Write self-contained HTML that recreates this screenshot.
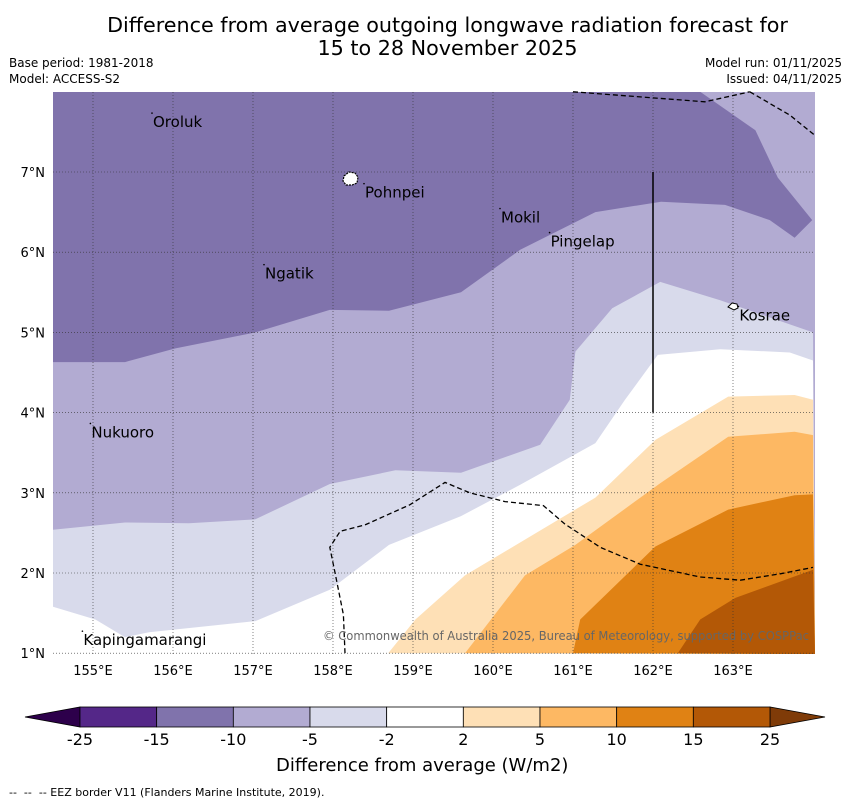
<!DOCTYPE html>
<html><head><meta charset="utf-8"><style>
body{margin:0;background:#fff;font-family:"DejaVu Sans","Liberation Sans",sans-serif;}
#wrap{position:relative;width:850px;height:804px;overflow:hidden;}
.t{position:absolute;white-space:nowrap;color:#000;}
</style></head><body>
<div id="wrap">
<div class="t" style="left:0;width:895px;text-align:center;top:14px;font-size:20.7px;line-height:23px;">Difference from average outgoing longwave radiation forecast for<br>15 to 28 November 2025</div>
<div class="t" style="left:9px;top:55px;font-size:12px;line-height:16px;">Base period: 1981-2018<br>Model: ACCESS-S2</div>
<div class="t" style="right:8px;top:55px;font-size:12px;line-height:16px;text-align:right;">Model run: 01/11/2025<br>Issued: 04/11/2025</div>
<svg id="map" width="850" height="804" style="position:absolute;left:0;top:0"></svg>
<div class="t" style="left:276px;top:755px;font-size:18px;">Difference from average (W/m2)</div>
<div class="t" style="left:9px;top:786px;font-size:11px;">--&nbsp; --&nbsp; -- EEZ border V11 (Flanders Marine Institute, 2019).</div>
</div>
<script>
const lonTicks=[155,156,157,158,159,160,161,162,163];
const latTicks=[1,2,3,4,5,6,7];
const levels=[-25,-15,-10,-5,-2,2,5,10,15,25];
const levelColors=['#542788','#8073ac','#b2abd2','#d8daeb','#ffffff','#fee0b6','#fdb863','#e08214','#b35806'];
const b1=[[154.5,4.63],[155.4,4.63],[156.03,4.8],[157.03,5.0],[157.96,5.28],[158.7,5.27],[159.6,5.5],[160.34,6.03],[161.28,6.5],[162.1,6.63],[162.9,6.59],[163.46,6.4],[163.77,6.18],[163.99,6.4],[163.56,6.93],[163.28,7.52],[162.59,8.0]];
const b2=[[154.5,2.54],[155.4,2.63],[156.2,2.62],[157.03,2.67],[157.96,3.11],[158.78,3.28],[159.6,3.25],[160.59,3.6],[160.96,4.16],[161.03,4.76],[161.49,5.3],[162.09,5.63],[162.84,5.4],[164.0,5.0]];
const b3=[[154.5,1.58],[155.03,1.42],[155.4,1.2],[155.7,1.26],[157.03,1.4],[157.96,1.79],[158.7,2.35],[159.6,2.71],[160.34,3.1],[161.28,3.62],[161.65,4.16],[162.06,4.72],[162.84,4.79],[163.71,4.75],[164.0,4.65]];
const b4=[[158.69,1.0],[159.03,1.42],[159.65,1.97],[160.59,2.53],[161.28,2.94],[162.03,3.66],[162.94,4.2],[163.77,4.22],[164.0,4.16]];
const b5=[[159.65,1.0],[160.4,1.97],[161.03,2.35],[162.09,3.12],[162.94,3.7],[163.77,3.76],[164.0,3.72]];
const b6=[[161.0,1.0],[161.09,1.42],[162.03,2.33],[162.94,2.79],[163.77,2.97],[164.0,2.98]];
const b7=[[162.31,1.0],[162.59,1.42],[163.03,1.69],[164.0,2.04]];
const eezTop=[[161.0,8.0],[162.65,7.875],[163.21,8.0]];
const eezTop2=[[163.21,8.0],[163.71,7.71],[164.02,7.46]];
const eezBottom=[[158.15,1.0],[158.13,1.48],[158.03,1.98],[157.96,2.32],[158.09,2.52],[158.4,2.6],[158.96,2.85],[159.4,3.13],[159.71,3.0],[160.15,2.89],[160.63,2.84],[160.9,2.61],[161.34,2.32],[161.84,2.11],[162.59,1.95],[163.09,1.91],[163.59,1.99],[164.0,2.07]];
const places=[['Oroluk',155.75,7.56],['Pohnpei',158.4,6.68],['Mokil',160.1,6.37],['Pingelap',160.72,6.07],['Ngatik',157.15,5.67],['Kosrae',163.08,5.15],['Nukuoro',154.98,3.69],['Kapingamarangi',154.88,1.1]];
const X=lon=>93+(lon-155)*80, Y=lat=>172+(7-lat)*80.2;
const L=53,R=815,T=92,B=654;
const svg=document.getElementById('map');
const NS='http://www.w3.org/2000/svg';
function mk(tag,attrs){const e=document.createElementNS(NS,tag);for(const k in attrs)e.setAttribute(k,attrs[k]);svg.appendChild(e);return e;}
function pts(a){return a.map(p=>X(p[0]).toFixed(1)+','+Y(p[1]).toFixed(1)).join(' ');}
const clip=mk('clipPath',{id:'c'});const cr=document.createElementNS(NS,'rect');cr.setAttribute('x',L);cr.setAttribute('y',T);cr.setAttribute('width',R-L);cr.setAttribute('height',B-T);clip.appendChild(cr);
const g=mk('g',{'clip-path':'url(#c)'});
function poly(p,fill,name){const e=document.createElementNS(NS,'polygon');e.setAttribute('points',p);e.setAttribute('fill',fill);


g.appendChild(e);}
poly(`${L},${T} ${R},${T} ${R},${B} ${L},${B}`,levelColors[1],'region-minus15');
poly(pts(b1)+` ${R},${T} ${R},${B} ${L},${B}`,levelColors[2],'region-minus10');
poly(pts(b2)+` ${R},${B} ${L},${B}`,levelColors[3],'region-minus5');
poly(pts(b3)+` ${R},${B} ${L},${B}`,levelColors[4],'region-minus2');
poly(pts(b4)+` ${R},${B}`,levelColors[5],'region-2');
poly(pts(b5)+` ${R},${B}`,levelColors[6],'region-5');
poly(pts(b6)+` ${R},${B}`,levelColors[7],'region-10');
poly(pts(b7)+` ${R},${B}`,levelColors[8],'region-15');
lonTicks.forEach(l=>{const e=mk('line',{x1:X(l),x2:X(l),y1:T,y2:B,stroke:'#333','stroke-width':0.6,'stroke-dasharray':'1,2'});


const t=mk('text',{x:X(l),y:B+21,'text-anchor':'middle','font-size':13});t.textContent=l+'°E';

});
latTicks.forEach(l=>{const e=mk('line',{x1:L,x2:R,y1:Y(l),y2:Y(l),stroke:'#333','stroke-width':0.6,'stroke-dasharray':'1,2'});


const t=mk('text',{x:L-8,y:Y(l)+5,'text-anchor':'end','font-size':13});t.textContent=l+'°N';

});
[eezTop,eezTop2,eezBottom].forEach(a=>{const e=mk('polyline',{points:pts(a),fill:'none',stroke:'#000','stroke-width':1.3,'stroke-dasharray':'5,3'});

});
const vl=mk('line',{x1:X(162),x2:X(162),y1:Y(7),y2:Y(4),stroke:'#000','stroke-width':1.5});


const pi=mk('path',{d:'M344,176 l5,-4 l6,1 l3,4 l-1,6 l-5,2 l-6,0 l-3,-4 z',fill:'#fff',stroke:'#000','stroke-width':1.2,'stroke-dasharray':'2,1'});


const ki=mk('path',{d:'M728,307 l4,-4 l5,1 l1,4 l-4,2 z',fill:'#fff',stroke:'#000','stroke-width':1});


places.forEach(p=>{const t=mk('text',{x:X(p[1]),y:Y(p[2]),'font-size':15});t.textContent=p[0];


const d=mk('circle',{cx:X(p[1])-1,cy:Y(p[2])-14,r:0.8,fill:'#000'});

});
const cp=mk('text',{x:323,y:640,'font-size':12,fill:'#666',textLength:486,lengthAdjust:'spacingAndGlyphs'});cp.textContent='© Commonwealth of Australia 2025, Bureau of Meteorology, supported by COSPPac';


const cbL=80,cbR=770,cbT=707,cbB=727,w=(cbR-cbL)/9;
const la=mk('polygon',{points:`${cbL},${cbT} ${cbL},${cbB} 25,717`,fill:'#2d004b',stroke:'#000','stroke-width':0.8});


const ra=mk('polygon',{points:`${cbR},${cbT} ${cbR},${cbB} 825,717`,fill:'#7f3b08',stroke:'#000','stroke-width':0.8});


levelColors.forEach((c,i)=>{const r=mk('rect',{x:cbL+i*w,y:cbT,width:w,height:cbB-cbT,fill:c,stroke:'#000','stroke-width':0.8});

});
levels.forEach((v,i)=>{const t=mk('text',{x:cbL+i*w,y:745,'text-anchor':'middle','font-size':16});t.textContent=v;

});
</script>
</body></html>
